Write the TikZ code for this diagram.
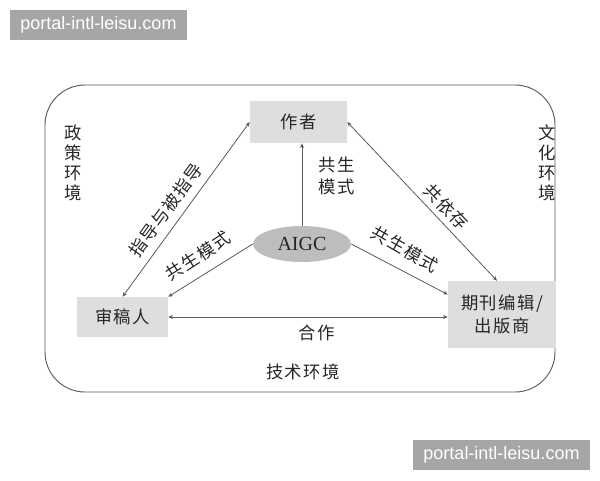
\documentclass[tikz,border=0pt]{standalone}
\usepackage{fontspec}
\setmainfont{Liberation Serif}
\newfontfamily\cjk[LetterSpace=8]{Noto Sans CJK SC}
\newfontfamily\wmfont{Liberation Sans}
\usetikzlibrary{arrows.meta,shapes.geometric}
\definecolor{boxgray}{HTML}{DEDEDE}
\definecolor{ellgray}{HTML}{BDBDBD}
\definecolor{linegray}{HTML}{5A5A5A}
\definecolor{txtgray}{HTML}{262626}
\definecolor{wmgray}{HTML}{A6A6A6}
\begin{document}
\begin{tikzpicture}[x=0.75pt,y=-0.75pt,
  actor/.style={draw=none,fill=boxgray,inner sep=0pt,font=\cjk\fontsize{13}{17}\selectfont,text=txtgray,align=center},
  core/.style={ellipse,fill=ellgray,draw=none,inner sep=0pt,minimum width=73.5pt,minimum height=27pt,font=\fontsize{15}{17}\selectfont,text=txtgray},
  lbl/.style={font=\cjk\fontsize{13}{17}\selectfont,text=txtgray,inner sep=0pt,align=center},
  envlbl/.style={font=\cjk\fontsize{13}{15}\selectfont,text=txtgray,inner sep=0pt,align=center},
  link/.style={draw=linegray,line width=0.6pt},
  tip/.style={-{Stealth[length=3.5pt,width=3pt]}},
  tips/.style={{Stealth[length=3.5pt,width=3pt]}-{Stealth[length=3.5pt,width=3pt]}},
  wm/.style={fill=wmgray,text=white,font=\wmfont\fontsize{13.5}{15}\selectfont,inner sep=0pt,minimum width=132.75pt,minimum height=22.5pt}
]
\useasboundingbox (0,0) rectangle (600,480);
\fill[white] (0,0) rectangle (600,480);
% frame
\draw[draw=linegray,line width=0.7pt,rounded corners=30pt] (45,85) rectangle (555,392);
% actors
\node[actor,minimum width=72.75pt,minimum height=31.5pt] (zz) at (298.5,122) {作者};
\node[actor,minimum width=68.25pt,minimum height=30pt] (sg) at (122.5,317) {审稿人};
\node[actor,minimum width=81pt,minimum height=50.25pt] (qk) at (502,314.5) {期刊编辑/\\出版商};
\node[core] (ai) at (302,244) {AIGC};
% connectors
\draw[link,tips] (zz.west) -- (sg.north);
\draw[link,tips] (zz.east) -- ([xshift=-3.75pt]qk.north);
\draw[link,tip] (ai.north) -- (ai.north |- zz.south);
\draw[link,tip] (ai.west) -- (sg.north east);
\draw[link,tip] (ai.east) -- ([yshift=15pt]qk.west);
\draw[link,tips] (sg.east) -- (sg.east -| qk.west);
% labels
\node[lbl,rotate=54] (l1) at (166,210) {指导与被指导};
\node[lbl,rotate=33] (l2) at (198,256) {共生模式};
\node[lbl,align=left] (l3) at (337,176) {共生\\模式};
\node[lbl,rotate=-46] (l4) at (446,207) {共依存};
\node[lbl,rotate=-30] (l5) at (405,249) {共生模式};
\node[lbl] (l6) at (317,333) {合作};
% environments
\node[envlbl] (e1) at (73,163) {政\\策\\环\\境};
\node[envlbl] (e2) at (547,163) {文\\化\\环\\境};
\node[envlbl] (e3) at (303,372) {技术环境};
% watermarks
\node[wm] (w1) at (98.5,25) {portal-intl-leisu.com};
\node[wm] (w2) at (501.5,455) {portal-intl-leisu.com};
\end{tikzpicture}
\end{document}
